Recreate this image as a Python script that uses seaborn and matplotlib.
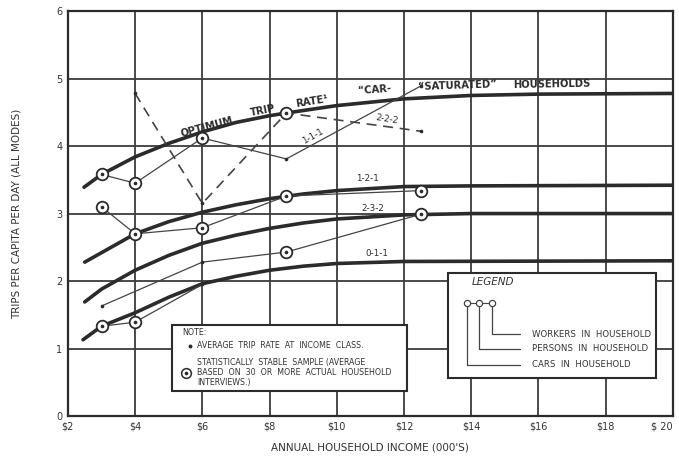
import numpy as np
import pandas as pd
import matplotlib.pyplot as plt
import seaborn as sns
from matplotlib.patches import Rectangle

# fitted (smoothed) curves
opt_x = [2.48, 3.0, 4.0, 5.0, 6.0, 7.0, 8.0, 8.5, 10.0, 12.0, 14.0, 16.0, 20.0]
opt_y = [3.39, 3.58, 3.84, 4.04, 4.21, 4.35, 4.45, 4.49, 4.60, 4.70, 4.75, 4.77, 4.78]

fit121_x = [2.5, 3.0, 4.0, 5.0, 6.0, 7.0, 8.0, 9.0, 10.0, 12.0, 14.0, 20.0]
fit121_y = [2.28, 2.42, 2.70, 2.88, 3.02, 3.13, 3.22, 3.29, 3.34, 3.40, 3.41, 3.42]

fit232_x = [2.5, 3.0, 4.0, 5.0, 6.0, 7.0, 8.0, 9.0, 10.0, 12.0, 14.0, 20.0]
fit232_y = [1.69, 1.88, 2.16, 2.38, 2.56, 2.68, 2.78, 2.86, 2.92, 2.98, 3.0, 3.0]

fit011_x = [2.45, 3.0, 4.0, 5.0, 6.0, 7.0, 8.0, 9.0, 10.0, 12.0, 20.0]
fit011_y = [1.13, 1.33, 1.53, 1.76, 1.96, 2.07, 2.16, 2.22, 2.26, 2.29, 2.30]

# observed trip rates by household type
s111_x = [3.0, 4.0, 6.0, 8.5, 12.5]
s111_y = [3.58, 3.45, 4.12, 3.81, 4.89]
s111_stable = [True, True, True, False, False]

s222_x = [4.0, 6.0, 8.5, 12.5]
s222_y = [4.78, 3.15, 4.49, 4.22]
s222_stable = [False, False, True, False]

s121_x = [3.0, 4.0, 6.0, 8.5, 12.5]
s121_y = [3.10, 2.70, 2.79, 3.26, 3.34]
s121_stable = [True, True, True, True, True]

s232_x = [3.0, 6.0, 8.5, 12.5]
s232_y = [1.63, 2.28, 2.43, 2.99]
s232_stable = [False, False, True, True]

s011_x = [3.0, 4.0, 6.0]
s011_y = [1.33, 1.39, 1.95]
s011_stable = [True, True, False]

x_ticks = [2, 4, 6, 8, 10, 12, 14, 16, 18, 20]
y_ticks = [0, 1, 2, 3, 4, 5, 6]

INK = "#2b2b2b"
GRID = "#3c3c3c"

sns.set_style("white")
plt.rcParams["font.family"] = ["DejaVu Sans"]

fig = plt.figure(figsize=(6.79, 4.63), dpi=100)
ax = fig.add_axes([0.100, 0.1015, 0.891, 0.8745])

# fitted curves
fits = [(opt_x, opt_y), (fit121_x, fit121_y), (fit232_x, fit232_y), (fit011_x, fit011_y)]
for fx, fy in fits:
    sns.lineplot(x=fx, y=fy, ax=ax, color=INK, lw=2.6, sort=False,
                 estimator=None, zorder=3)

# observed series
frames = []
for name, xs, ys, st in [("1-1-1", s111_x, s111_y, s111_stable),
                         ("2-2-2", s222_x, s222_y, s222_stable),
                         ("1-2-1", s121_x, s121_y, s121_stable),
                         ("2-3-2", s232_x, s232_y, s232_stable),
                         ("0-1-1", s011_x, s011_y, s011_stable)]:
    frames.append(pd.DataFrame({"series": name, "income": xs, "trips": ys, "stable": st}))
df = pd.concat(frames, ignore_index=True)

for name, g in df.groupby("series", sort=False):
    ls = (0, (6, 4)) if name == "2-2-2" else "-"
    lw = 1.2 if name == "2-2-2" else 0.9
    sns.lineplot(data=g, x="income", y="trips", ax=ax, color="#444444", lw=lw,
                 linestyle=ls, sort=False, estimator=None, zorder=4)

stable = df[df["stable"]]
sns.scatterplot(data=stable, x="income", y="trips", ax=ax, marker="o", s=70,
                facecolor="white", edgecolor=INK, linewidth=1.3, zorder=5)
sns.scatterplot(data=df, x="income", y="trips", ax=ax, marker="o", s=7,
                color=INK, linewidth=0, zorder=6)

ax.set_xlim(2, 20)
ax.set_ylim(0, 6)
ax.set_xticks(x_ticks)
ax.set_xticklabels(["\\$%d" % v for v in x_ticks[:-1]] + ["\\$ 20"])
ax.get_xticklabels()[-1].set_horizontalalignment("right")
ax.get_xticklabels()[-1].set_x(20.2)
ax.set_yticks(y_ticks)
ax.grid(True, color=GRID, lw=1.3, zorder=0)
ax.set_axisbelow(True)
for sp in ax.spines.values():
    sp.set_color(INK)
    sp.set_linewidth(1.6)
ax.tick_params(length=0, labelsize=7, colors="#333333", pad=4)
ax.set_xlabel("ANNUAL HOUSEHOLD INCOME (000'S)", fontsize=7.5, color="#333333", labelpad=8)
ax.set_ylabel("TRIPS PER CAPITA PER DAY (ALL MODES)", fontsize=7.5, color="#333333", labelpad=25)

# curve captions
lbl = dict(color=INK, fontsize=7.2, fontweight="bold", ha="center", va="center", zorder=7)
ax.text(6.13, 4.28, "OPTIMUM", rotation=15, **lbl)
ax.text(7.80, 4.52, "TRIP", rotation=11, **lbl)
ax.text(9.26, 4.66, "RATE\u00b9", rotation=9, **lbl)
ax.text(11.13, 4.84, "\u201cCAR-", rotation=4, **lbl)
ax.text(13.6, 4.89, "\u201cSATURATED\u201d", rotation=2, **lbl)
ax.text(16.4, 4.92, "HOUSEHOLDS", rotation=1, **lbl)

small = dict(color=INK, fontsize=6.3, ha="center", va="center", zorder=7)
ax.text(9.3, 4.15, "1-1-1", rotation=29, **small)
ax.text(11.5, 4.39, "2-2-2", rotation=-9, **small)
ax.text(10.9, 3.52, "1-2-1", **small)
ax.text(11.07, 3.07, "2-3-2", **small)
ax.text(11.2, 2.41, "0-1-1", **small)

# note box
ax.add_patch(Rectangle((5.1, 0.37), 7.0, 0.98, facecolor="white", edgecolor=INK,
                       lw=1.5, zorder=8))
nt = dict(color="#333333", fontsize=5.7, ha="left", va="center", zorder=9)
ax.text(5.40, 1.24, "NOTE:", **nt)
ax.plot([5.62], [1.04], marker="o", ms=1.8, color=INK, zorder=9)
ax.text(5.85, 1.04, "AVERAGE  TRIP  RATE  AT  INCOME  CLASS.", **nt)
ax.text(5.85, 0.80, "STATISTICALLY  STABLE  SAMPLE (AVERAGE", **nt)
ax.text(5.85, 0.64, "BASED  ON  30  OR  MORE  ACTUAL  HOUSEHOLD", **nt)
ax.text(5.85, 0.50, "INTERVIEWS.)", **nt)
ax.plot([5.52], [0.64], marker="o", ms=7, mfc="white", mec=INK, mew=1.1, zorder=9)
ax.plot([5.52], [0.64], marker="o", ms=1.6, color=INK, zorder=10)

# legend box
ax.add_patch(Rectangle((13.3, 0.56), 6.2, 1.56, facecolor="white", edgecolor=INK,
                       lw=1.5, zorder=8))
ax.text(14.0, 1.98, "LEGEND", color="#333333", fontsize=7.5, style="italic",
        ha="left", va="center", zorder=9)
cx = [13.86, 14.22, 14.61]
ax.plot(cx, [1.67] * 3, color="#444444", lw=0.8, zorder=9)
ax.plot(cx, [1.67] * 3, ls="none", marker="o", ms=4.5, mfc="white", mec="#444444",
        mew=0.9, zorder=10)
rows = [(0.756, "CARS  IN  HOUSEHOLD"), (0.993, "PERSONS  IN  HOUSEHOLD"),
        (1.215, "WORKERS  IN  HOUSEHOLD")]
for x0, (yy, txt) in zip(cx, rows):
    ax.plot([x0, x0, 15.44], [1.61, yy, yy], color="#444444", lw=0.9, zorder=9)
    ax.text(15.8, yy, txt, color="#333333", fontsize=6.2, ha="left", va="center", zorder=9)

fig.savefig("out.png", dpi=100)
